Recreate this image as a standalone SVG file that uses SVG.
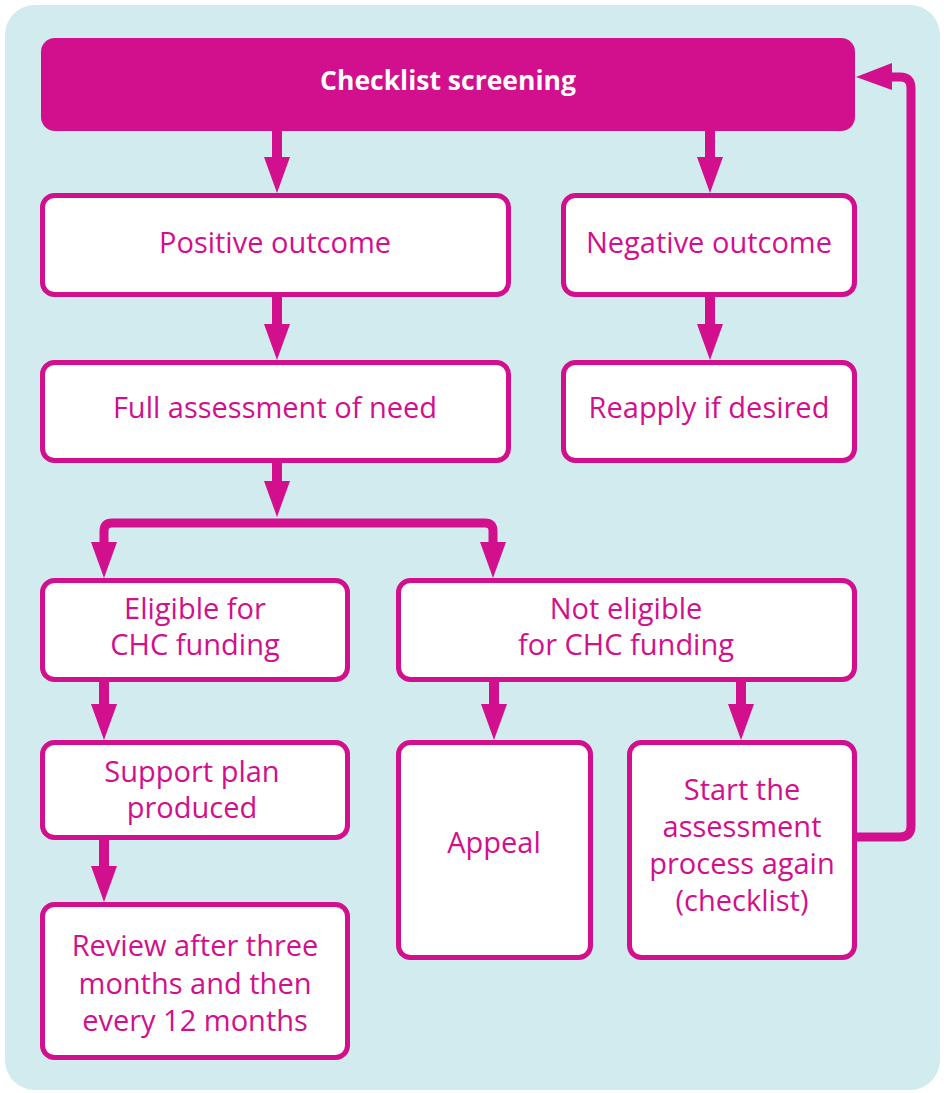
<svg xmlns="http://www.w3.org/2000/svg" width="944" height="1093" viewBox="0 0 944 1093">
<style>
.box{fill:#ffffff;stroke:#d20f8c;stroke-width:5}
.hdr{fill:#d20f8c}
.t{font-family:"Open Sans","Noto Sans",sans-serif;font-size:29px;fill:#d20f8c;text-anchor:middle}
.th{font-family:"Open Sans","Noto Sans",sans-serif;font-size:26.5px;font-weight:bold;fill:#ffffff;text-anchor:middle}
.stem{stroke:#d20f8c;stroke-width:10;fill:none}
.line{stroke:#d20f8c;stroke-width:9;fill:none;stroke-linejoin:round}
.head{fill:#d20f8c}
</style>
<rect x="5" y="5" width="935" height="1085" rx="30" fill="#d1ebee"/>
<g id="connectors">
  <line class="stem" x1="277" y1="130" x2="277" y2="160"/>
  <polygon class="head" points="264,157 290,157 277,193"/>
  <line class="stem" x1="710" y1="130" x2="710" y2="160"/>
  <polygon class="head" points="697,157 723,157 710,193"/>
  <line class="stem" x1="277" y1="296" x2="277" y2="327"/>
  <polygon class="head" points="264,324 290,324 277,360"/>
  <line class="stem" x1="710" y1="296" x2="710" y2="327"/>
  <polygon class="head" points="697,324 723,324 710,360"/>
  <line class="stem" x1="277" y1="462" x2="277" y2="484"/>
  <polygon class="head" points="264,481 290,481 277,517"/>
  <path class="line" d="M104,546 V531 Q104,523 112,523 H485 Q493,523 493,531 V546"/>
  <polygon class="head" points="91,542 117,542 104,578"/>
  <polygon class="head" points="480,542 506,542 493,578"/>
  <line class="stem" x1="104" y1="681" x2="104" y2="707"/>
  <polygon class="head" points="91,704 117,704 104,740"/>
  <line class="stem" x1="104" y1="839" x2="104" y2="869"/>
  <polygon class="head" points="91,866 117,866 104,902"/>
  <line class="stem" x1="494" y1="681" x2="494" y2="707"/>
  <polygon class="head" points="481,704 507,704 494,740"/>
  <line class="stem" x1="741" y1="681" x2="741" y2="707"/>
  <polygon class="head" points="728,704 754,704 741,740"/>
  <path class="line" d="M857,837 H900 Q911,837 911,826 V88 Q911,77 900,77 H888"/>
  <polygon class="head" points="892,63 892,90 856,77"/>
</g>
<g id="n-checklist">
  <rect class="hdr" x="41" y="38" width="814" height="93" rx="14"/>
  <text class="th" x="448" y="90">Checklist screening</text>
</g>
<g id="n-positive">
  <rect class="box" x="42.5" y="195.5" width="466" height="99" rx="12"/>
  <text class="t" x="275" y="253">Positive outcome</text>
</g>
<g id="n-negative">
  <rect class="box" x="563.5" y="195.5" width="291" height="99" rx="12"/>
  <text class="t" x="709" y="253">Negative outcome</text>
</g>
<g id="n-full">
  <rect class="box" x="42.5" y="362.5" width="466" height="98" rx="12"/>
  <text class="t" x="275" y="418">Full assessment of need</text>
</g>
<g id="n-reapply">
  <rect class="box" x="563.5" y="362.5" width="291" height="98" rx="12"/>
  <text class="t" x="709" y="418">Reapply if desired</text>
</g>
<g id="n-eligible">
  <rect class="box" x="42.5" y="580.5" width="305" height="99" rx="12"/>
  <text class="t" x="195" y="619">Eligible for</text>
  <text class="t" x="195" y="655">CHC funding</text>
</g>
<g id="n-noteligible">
  <rect class="box" x="398.5" y="580.5" width="456" height="99" rx="12"/>
  <text class="t" x="626" y="619">Not eligible</text>
  <text class="t" x="626" y="655">for CHC funding</text>
</g>
<g id="n-support">
  <rect class="box" x="42.5" y="742.5" width="305" height="95" rx="12"/>
  <text class="t" x="192" y="782">Support plan</text>
  <text class="t" x="192" y="818">produced</text>
</g>
<g id="n-appeal">
  <rect class="box" x="398.5" y="742.5" width="192" height="215" rx="12"/>
  <text class="t" x="494" y="853">Appeal</text>
</g>
<g id="n-start">
  <rect class="box" x="629.5" y="742.5" width="225" height="215" rx="12"/>
  <text class="t" x="742" y="800">Start the</text>
  <text class="t" x="742" y="837">assessment</text>
  <text class="t" x="742" y="874">process again</text>
  <text class="t" x="742" y="911">(checklist)</text>
</g>
<g id="n-review">
  <rect class="box" x="42.5" y="904.5" width="305" height="153" rx="12"/>
  <text class="t" x="195" y="956">Review after three</text>
  <text class="t" x="195" y="994">months and then</text>
  <text class="t" x="195" y="1031">every 12 months</text>
</g>
</svg>
